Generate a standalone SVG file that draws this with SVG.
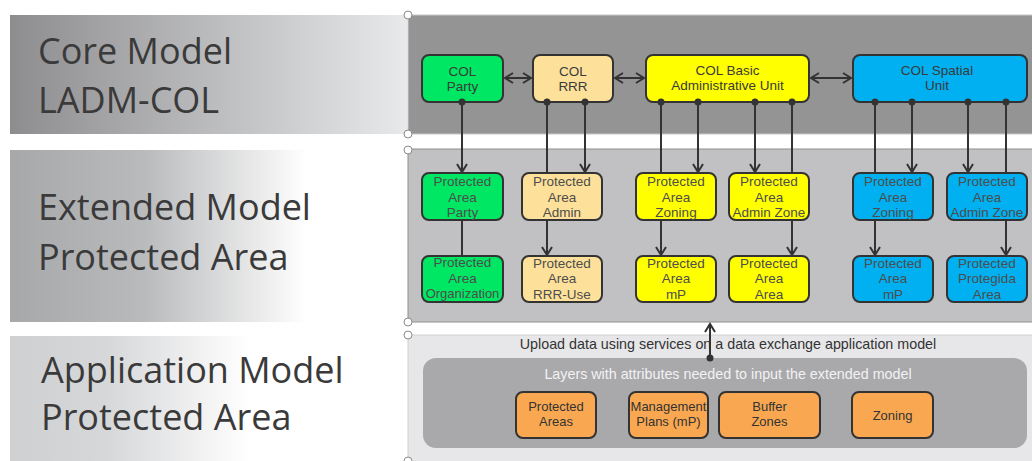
<svg xmlns="http://www.w3.org/2000/svg" width="1032" height="461" viewBox="0 0 1032 461">
<defs>
<linearGradient id="gCore" x1="0" y1="0" x2="1" y2="0">
<stop offset="0" stop-color="#8d8d8f"/><stop offset="1" stop-color="#e8e9ea"/>
</linearGradient>
<linearGradient id="gExt" x1="0" y1="0" x2="1" y2="0">
<stop offset="0" stop-color="#a7a8aa"/><stop offset="0.45" stop-color="#b9babc"/><stop offset="1" stop-color="#ffffff"/>
</linearGradient>
<linearGradient id="gApp" x1="0" y1="0" x2="1" y2="0">
<stop offset="0" stop-color="#cfd0d2"/><stop offset="0.4" stop-color="#d6d7d9"/><stop offset="1" stop-color="#ffffff"/>
</linearGradient>
<marker id="arr" markerWidth="12" markerHeight="12" refX="9" refY="6" orient="auto-start-reverse" markerUnits="userSpaceOnUse">
<path d="M1,1 L9,6 L1,11" fill="none" stroke="#333" stroke-width="2"/>
</marker>
<style>
.lbl{font-family:"Open Sans",sans-serif;font-size:36px;fill:#3a3a3a}
.nd{stroke:#333;stroke-width:2}
.t{font-family:"Liberation Sans",Arial,sans-serif;font-size:13.5px;fill:#3a3a3a;text-anchor:middle}
.te{font-family:"Liberation Sans",Arial,sans-serif;font-size:13.5px;fill:#4d4d4d;text-anchor:middle}
.to{font-family:"Liberation Sans",Arial,sans-serif;font-size:13px;fill:#333;text-anchor:middle}
.ln{stroke:#333;stroke-width:2;fill:none}
.dot{fill:#333}
.hd{fill:#fff;stroke:#8a8a8a;stroke-width:1}
.green{fill:#00e863}.peach{fill:#fde19a}.yellow{fill:#ffff00}.blue{fill:#00b0f0}.orange{fill:#f9a851}
</style>
</defs>
<rect x="0" y="0" width="1032" height="461" fill="#ffffff"/>
<!-- left labels -->
<g id="label-core">
<rect x="10" y="15" width="397" height="119" fill="url(#gCore)"/>
<text class="lbl" x="38" y="64">Core Model</text>
<text class="lbl" x="38" y="113">LADM-COL</text>
</g>
<g id="label-extended">
<rect x="10" y="150" width="297" height="172" fill="url(#gExt)"/>
<text class="lbl" x="38" y="220">Extended Model</text>
<text class="lbl" x="38" y="270">Protected Area</text>
</g>
<g id="label-application">
<rect x="10" y="336" width="240" height="125" fill="url(#gApp)"/>
<text class="lbl" x="41" y="383">Application Model</text>
<text class="lbl" x="41" y="430">Protected Area</text>
</g>
<!-- panels -->
<g id="panel-core">
<rect x="408" y="15" width="630" height="119" fill="#949494" stroke="#c8c8c8" stroke-width="1"/>
</g>
<g id="panel-extended">
<rect x="408" y="149" width="630" height="173" fill="#c1c1c3" stroke="#8f8f8f" stroke-width="1"/>
</g>
<g id="panel-application">
<rect x="408" y="335" width="630" height="130" fill="#e7e7e9" stroke="#d2d2d2" stroke-width="1"/>
<rect x="423" y="358" width="604" height="90" rx="13" fill="#a9a9ac"/>
<text x="728" y="349" font-family="Liberation Sans, Arial, sans-serif" font-size="14.3" fill="#333" text-anchor="middle">Upload data using services on a data exchange application model</text>
<text x="728" y="379" font-family="Liberation Sans, Arial, sans-serif" font-size="14.3" fill="#f2f2f2" text-anchor="middle">Layers with attributes needed to input the extended model</text>
</g>
<!-- connectors -->
<g id="connectors">
<line class="ln" x1="505" y1="78" x2="531" y2="78" marker-start="url(#arr)" marker-end="url(#arr)"/>
<line class="ln" x1="615" y1="78" x2="644" y2="78" marker-start="url(#arr)" marker-end="url(#arr)"/>
<line class="ln" x1="811" y1="78" x2="851" y2="78" marker-start="url(#arr)" marker-end="url(#arr)"/>
<line class="ln" x1="462" y1="102" x2="462" y2="172" marker-end="url(#arr)"/>
<line class="ln" x1="462" y1="220" x2="462" y2="256"/>
<line class="ln" x1="547" y1="102" x2="547" y2="173"/>
<line class="ln" x1="585" y1="102" x2="585" y2="172" marker-end="url(#arr)"/>
<line class="ln" x1="547" y1="220" x2="547" y2="255" marker-end="url(#arr)"/>
<line class="ln" x1="661" y1="102" x2="661" y2="173"/>
<line class="ln" x1="698" y1="102" x2="698" y2="172" marker-end="url(#arr)"/>
<line class="ln" x1="661" y1="220" x2="661" y2="255" marker-end="url(#arr)"/>
<line class="ln" x1="755" y1="102" x2="755" y2="172" marker-end="url(#arr)"/>
<line class="ln" x1="792" y1="102" x2="792" y2="173"/>
<line class="ln" x1="792" y1="220" x2="792" y2="255" marker-end="url(#arr)"/>
<line class="ln" x1="875" y1="102" x2="875" y2="173"/>
<line class="ln" x1="912" y1="102" x2="912" y2="172" marker-end="url(#arr)"/>
<line class="ln" x1="875" y1="220" x2="875" y2="255" marker-end="url(#arr)"/>
<line class="ln" x1="968" y1="102" x2="968" y2="172" marker-end="url(#arr)"/>
<line class="ln" x1="1006" y1="102" x2="1006" y2="173"/>
<line class="ln" x1="1006" y1="220" x2="1006" y2="255" marker-end="url(#arr)"/>
<line class="ln" x1="710" y1="358" x2="710" y2="324" marker-end="url(#arr)"/>
<circle class="dot" cx="710" cy="358" r="3.5"/>
</g>
<!-- core nodes -->
<g id="col-party">
<rect class="nd green" x="422" y="55" width="81" height="47" rx="7"/>
<text class="t" x="462.5" y="75.5">COL</text><text class="t" x="462.5" y="90.5">Party</text>
<circle class="dot" cx="462" cy="102" r="3.5"/>
</g>
<g id="col-rrr">
<rect class="nd peach" x="533" y="55" width="80" height="47" rx="7"/>
<text class="t" x="573" y="75.5">COL</text><text class="t" x="573" y="90.5">RRR</text>
<circle class="dot" cx="547" cy="102" r="3.5"/><circle class="dot" cx="585" cy="102" r="3.5"/>
</g>
<g id="col-basic-admin-unit">
<rect class="nd yellow" x="646" y="55" width="163" height="47" rx="7"/>
<text class="t" x="727.5" y="75">COL Basic</text><text class="t" x="727.5" y="90">Administrative Unit</text>
<circle class="dot" cx="661" cy="102" r="3.5"/><circle class="dot" cx="698" cy="102" r="3.5"/>
<circle class="dot" cx="755" cy="102" r="3.5"/><circle class="dot" cx="792" cy="102" r="3.5"/>
</g>
<g id="col-spatial-unit">
<rect class="nd blue" x="853" y="55" width="174" height="47" rx="7"/>
<text class="t" x="937" y="75">COL Spatial</text><text class="t" x="937" y="90">Unit</text>
<circle class="dot" cx="875" cy="102" r="3.5"/><circle class="dot" cx="912" cy="102" r="3.5"/>
<circle class="dot" cx="968" cy="102" r="3.5"/><circle class="dot" cx="1006" cy="102" r="3.5"/>
</g>
<!-- extended nodes row 1 -->
<g id="pa-party">
<rect class="nd green" x="422" y="173" width="81" height="47" rx="7"/>
<text class="te" x="462.5" y="186">Protected</text><text class="te" x="462.5" y="201.5">Area</text><text class="te" x="462.5" y="217">Party</text>
</g>
<g id="pa-admin">
<rect class="nd peach" x="522" y="173" width="80" height="47" rx="7"/>
<text class="te" x="562" y="186">Protected</text><text class="te" x="562" y="201.5">Area</text><text class="te" x="562" y="217">Admin</text>
</g>
<g id="pa-zoning-y">
<rect class="nd yellow" x="636" y="173" width="80" height="47" rx="7"/>
<text class="te" x="676" y="186">Protected</text><text class="te" x="676" y="201.5">Area</text><text class="te" x="676" y="217">Zoning</text>
</g>
<g id="pa-admin-zone-y">
<rect class="nd yellow" x="729" y="173" width="80" height="47" rx="7"/>
<text class="te" x="769" y="186">Protected</text><text class="te" x="769" y="201.5">Area</text><text class="te" x="769" y="217">Admin Zone</text>
</g>
<g id="pa-zoning-b">
<rect class="nd blue" x="853" y="173" width="80" height="47" rx="7"/>
<text class="te" x="893" y="186">Protected</text><text class="te" x="893" y="201.5">Area</text><text class="te" x="893" y="217">Zoning</text>
</g>
<g id="pa-admin-zone-b">
<rect class="nd blue" x="947" y="173" width="80" height="47" rx="7"/>
<text class="te" x="987" y="186">Protected</text><text class="te" x="987" y="201.5">Area</text><text class="te" x="987" y="217">Admin Zone</text>
</g>
<!-- extended nodes row 2 -->
<g id="pa-organization">
<rect class="nd green" x="422" y="256" width="81" height="46" rx="7"/>
<text class="te" x="462.5" y="267">Protected</text><text class="te" x="462.5" y="282.5">Area</text><text class="te" x="462.5" y="298" style="font-size:13px">Organization</text>
</g>
<g id="pa-rrr-use">
<rect class="nd peach" x="522" y="256" width="80" height="46" rx="7"/>
<text class="te" x="562" y="267.5">Protected</text><text class="te" x="562" y="283">Area</text><text class="te" x="562" y="298.5">RRR-Use</text>
</g>
<g id="pa-mp-y">
<rect class="nd yellow" x="636" y="256" width="80" height="46" rx="7"/>
<text class="te" x="676" y="267.5">Protected</text><text class="te" x="676" y="283">Area</text><text class="te" x="676" y="298.5">mP</text>
</g>
<g id="pa-area-y">
<rect class="nd yellow" x="729" y="256" width="80" height="46" rx="7"/>
<text class="te" x="769" y="267.5">Protected</text><text class="te" x="769" y="283">Area</text><text class="te" x="769" y="298.5">Area</text>
</g>
<g id="pa-mp-b">
<rect class="nd blue" x="853" y="256" width="80" height="46" rx="7"/>
<text class="te" x="893" y="267.5">Protected</text><text class="te" x="893" y="283">Area</text><text class="te" x="893" y="298.5">mP</text>
</g>
<g id="pa-protegida-b">
<rect class="nd blue" x="947" y="256" width="80" height="46" rx="7"/>
<text class="te" x="987" y="267.5">Protected</text><text class="te" x="987" y="283">Protegida</text><text class="te" x="987" y="298.5">Area</text>
</g>
<!-- application nodes -->
<g id="app-protected-areas">
<rect class="nd orange" x="516" y="392" width="80" height="46" rx="7"/>
<text class="to" x="556" y="410.5">Protected</text><text class="to" x="556" y="425.5">Areas</text>
</g>
<g id="app-management-plans">
<rect class="nd orange" x="629" y="392" width="79" height="46" rx="7"/>
<text class="to" x="668.5" y="410.5">Management</text><text class="to" x="668.5" y="425.5">Plans (mP)</text>
</g>
<g id="app-buffer-zones">
<rect class="nd orange" x="719" y="392" width="101" height="46" rx="7"/>
<text class="to" x="769.5" y="410.5">Buffer</text><text class="to" x="769.5" y="425.5">Zones</text>
</g>
<g id="app-zoning">
<rect class="nd orange" x="852" y="392" width="81" height="46" rx="7"/>
<text class="to" x="892.5" y="419.5">Zoning</text>
</g>
<!-- handles -->
<g id="handles">
<circle class="hd" cx="408" cy="15" r="4"/>
<circle class="hd" cx="408" cy="134" r="4"/>
<circle class="hd" cx="408" cy="150" r="4"/>
<circle class="hd" cx="408" cy="322" r="4"/>
<circle class="hd" cx="408" cy="335" r="4"/>
<circle class="hd" cx="408" cy="461" r="4"/>
</g>
</svg>
